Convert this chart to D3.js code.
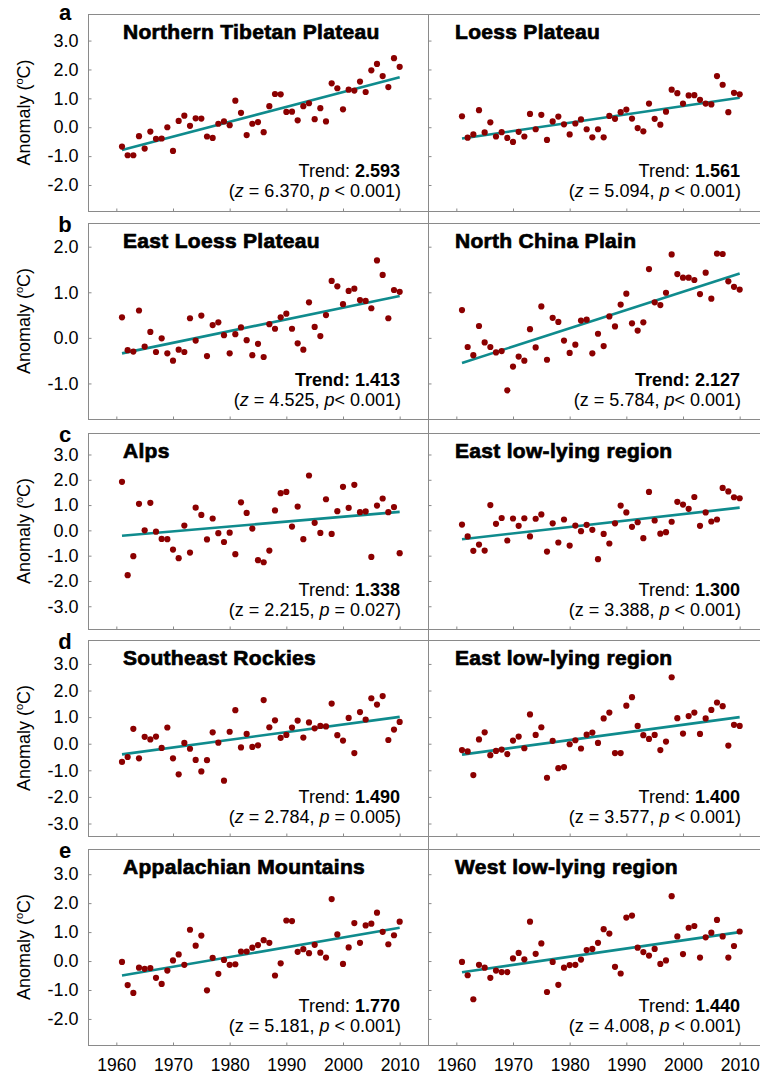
<!DOCTYPE html>
<html><head><meta charset="utf-8">
<script src="https://cdn.jsdelivr.net/npm/d3@7"></script>
<style>
body{margin:0;background:#fff}
svg{display:block}
text{font-family:"Liberation Sans",Arial,Helvetica,sans-serif;white-space:pre}
</style>
</head><body>
<svg id="chart" width="760" height="1074"></svg>
<script>
// ---------------- data ----------------
const years = d3.range(1961, 2011);
const rowLetters = ["a", "b", "c", "d", "e"];
const titles = ["Northern Tibetan Plateau", "Loess Plateau", "East Loess Plateau", "North China Plain",
  "Alps", "East low-lying region", "Southeast Rockies", "East low-lying region",
  "Appalachian Mountains", "West low-lying region"];
const xTickValues = [1960, 1970, 1980, 1990, 2000, 2010];
const xDomain = [1955, 2015];
const yTickValues = [[-2, -1, 0, 1, 2, 3], [-1, 0, 1, 2], [-3, -2, -1, 0, 1, 2, 3], [-3, -2, -1, 0, 1, 2, 3], [-2, -1, 0, 1, 2, 3]];
const yDomains = [[-2.9, 3.92], [-1.78, 2.52], [-3.9, 3.85], [-3.47, 3.9], [-2.9, 3.87]];

const northernTibetanPlateau = [-0.67,-0.97,-0.97,-0.31,-0.74,-0.15,-0.40,-0.39,0.00,-0.82,0.22,0.40,0.05,0.31,0.30,-0.32,-0.37,0.12,0.20,0.07,0.92,0.50,-0.27,0.12,0.18,-0.17,0.73,1.15,1.14,0.53,0.54,0.24,0.73,0.83,0.28,0.66,0.20,1.52,1.35,0.62,1.30,1.27,1.58,1.22,1.97,2.19,1.77,1.39,2.39,2.09];
const loessPlateau = [0.38,-0.36,-0.25,0.59,-0.18,0.17,-0.32,-0.17,-0.37,-0.51,-0.16,-0.32,0.46,-0.07,0.43,-0.44,0.20,0.37,0.10,-0.25,0.13,0.27,-0.07,-0.35,-0.07,-0.35,0.39,0.29,0.52,0.61,0.30,-0.03,-0.14,0.82,0.29,0.09,0.54,1.30,1.18,0.82,1.10,1.11,0.95,0.82,0.79,1.77,1.47,0.52,1.19,1.14];
const eastLoessPlateau = [0.45,-0.27,-0.30,0.60,-0.19,0.13,-0.31,-0.01,-0.34,-0.50,-0.26,-0.31,0.43,-0.06,0.49,-0.40,0.28,0.34,0.06,-0.34,0.08,0.23,-0.05,-0.38,-0.13,-0.42,0.30,0.20,0.45,0.53,0.20,-0.12,-0.26,0.78,0.24,0.04,0.50,1.25,1.13,0.74,1.03,1.08,0.83,0.81,0.65,1.70,1.38,0.43,1.05,1.01];
const northChinaPlain = [0.61,-0.20,-0.38,0.26,-0.10,-0.20,-0.32,-0.29,-1.15,-0.63,-0.41,-0.50,0.19,-0.21,0.69,-0.48,0.44,0.35,-0.06,-0.33,-0.15,0.38,0.40,-0.34,0.09,-0.18,0.47,0.25,0.73,0.97,0.32,0.16,0.34,1.51,0.78,0.72,0.99,1.83,1.40,1.32,1.32,1.27,0.96,1.43,0.86,1.85,1.84,1.24,1.12,1.06];
const alps = [1.92,-1.77,-1.02,1.05,0.00,1.09,-0.05,-0.34,-0.35,-0.76,-1.10,0.19,-0.88,0.90,0.61,-0.36,0.47,-0.11,-0.46,-0.09,-0.94,1.11,0.69,0.07,-1.18,-1.26,-0.80,0.79,1.47,1.52,0.15,0.94,-0.35,2.17,0.30,-0.10,1.23,-0.14,0.76,1.72,0.89,1.80,0.72,0.75,-1.05,0.98,1.26,0.72,0.92,-0.90];
const eastLowLyingC = [0.23,-0.24,-0.81,-0.56,-0.80,1.00,0.26,0.49,-0.40,0.47,0.18,0.48,-0.24,0.46,0.63,-0.84,0.28,-0.48,0.43,-0.60,0.19,-0.03,0.22,0.02,-1.14,-0.14,-0.52,0.28,0.98,0.71,0.14,0.32,-0.31,1.52,0.39,-0.13,-0.07,0.34,1.13,1.02,0.85,1.32,0.18,0.71,0.35,0.43,1.68,1.54,1.31,1.27];
const southeastRockies = [-0.68,-0.50,0.56,-0.55,0.26,0.16,0.27,-0.16,0.61,-0.55,-1.15,0.03,-0.19,-0.61,-1.04,-0.62,0.43,0.04,-1.39,0.45,1.26,-0.14,0.37,-0.12,-0.06,1.64,0.62,0.88,0.22,0.33,0.61,0.87,0.23,0.80,0.58,0.67,0.65,1.51,0.32,0.12,0.97,-0.35,1.19,0.91,1.71,1.47,1.79,0.14,0.53,0.82];
const eastLowLyingD = [-0.24,-0.29,-1.18,0.16,0.43,-0.43,-0.27,-0.22,-0.39,0.12,0.27,-0.17,1.10,0.33,0.62,-1.28,0.11,-0.92,-0.88,-0.02,0.13,-0.18,0.34,0.42,0.03,0.95,1.17,-0.35,-0.35,1.43,1.75,0.67,0.32,0.18,0.33,-0.24,0.08,2.50,0.96,0.38,1.04,1.17,0.37,0.95,1.27,1.55,1.41,-0.07,0.71,0.67];
const appalachianMountains = [-0.03,-0.83,-1.10,-0.23,-0.27,-0.24,-0.58,-0.79,-0.33,0.02,0.23,-0.13,1.08,0.53,0.88,-1.01,0.11,-0.44,0.04,-0.13,-0.11,0.33,0.33,0.46,0.55,0.72,0.63,-0.50,-0.08,1.40,1.38,0.32,0.41,0.27,0.56,0.29,0.12,2.14,0.92,-0.10,0.47,1.31,0.63,1.23,1.29,1.67,1.01,0.58,0.89,1.36];
const westLowLying = [-0.03,-0.49,-1.32,-0.13,-0.23,-0.58,-0.33,-0.38,-0.38,0.09,0.28,0.06,1.36,0.25,0.61,-1.07,-0.03,-0.82,-0.23,-0.14,-0.13,0.05,0.38,0.42,0.63,1.10,0.95,-0.20,-0.43,1.50,1.57,0.46,0.31,0.19,0.42,-0.10,0.02,2.24,0.85,0.24,1.15,1.21,0.12,0.82,0.98,1.42,0.85,0.12,0.52,1.02];

const series = [northernTibetanPlateau, loessPlateau, eastLoessPlateau, northChinaPlain, alps,
  eastLowLyingC, southeastRockies, eastLowLyingD, appalachianMountains, westLowLying];

// trend line values at 1961 and 2010
const trendStart = [-0.79, -0.39, -0.34, -0.55, -0.21, -0.35, -0.40, -0.41, -0.50, -0.39];
const trendEnd = [1.73, 1.02, 0.92, 1.41, 0.73, 0.90, 1.01, 1.00, 1.15, 1.00];

const trendValues = ["2.593", "1.561", "1.413", "2.127", "1.338", "1.300", "1.490", "1.400", "1.770", "1.440"];
const trendAllBold = [false, false, true, true, false, false, false, false, false, false];
const zValues = ["6.370", "5.094", "4.525", "5.784", "2.215", "3.388", "2.784", "3.577", "5.181", "4.008"];
const zItalic = [true, true, true, false, false, false, true, false, false, false];
const pTexts = [" < 0.001", " < 0.001", "< 0.001", "< 0.001", " = 0.027", " < 0.001", " = 0.005", " < 0.001", " < 0.001", " < 0.001"];

// ---------------- layout ----------------
const svg = d3.select("#chart");
const rowTop = [14, 223, 433, 640, 849];
const rowBottom = [211, 419, 629, 836, 1045];
const colLeft = [88, 428];
const colWidth = 340;
const frameColor = "#8a8a8a";
const pointColor = "#8b0000";
const lineColor = "#0f8b8d";
const font = "'Liberation Sans', Arial, Helvetica, sans-serif";

for (let r = 0; r < 5; r++) {
  const y = d3.scaleLinear().domain(yDomains[r]).range([rowBottom[r], rowTop[r]]);

  // row letter
  svg.append("text").attr("x", 65).attr("y", rowTop[r] + (r === 0 ? 6 : 8.5))
    .attr("text-anchor", "middle").attr("font-weight", "bold").attr("font-size", 22)
    .text(rowLetters[r]);

  // y-axis label
  const cy = (rowTop[r] + rowBottom[r]) / 2;
  const lab = svg.append("text")
    .attr("transform", `translate(30,${cy}) rotate(-90)`)
    .attr("text-anchor", "middle").attr("font-size", 18);
  lab.append("tspan").text("Anomaly (");
  lab.append("tspan").attr("font-size", 11).attr("dy", -7).text("o");
  lab.append("tspan").attr("dy", 7).text("C)");

  for (let c = 0; c < 2; c++) {
    const k = r * 2 + c;
    const x = d3.scaleLinear().domain(xDomain).range([colLeft[c], colLeft[c] + colWidth]);
    const g = svg.append("g");

    // frame
    g.append("rect").attr("x", colLeft[c] + 0.5).attr("y", rowTop[r] + 0.5)
      .attr("width", colWidth).attr("height", rowBottom[r] - rowTop[r])
      .attr("fill", "none").attr("stroke", frameColor).attr("stroke-width", 1);

    // y axis (ticks inside)
    const yAxis = d3.axisLeft(y).tickValues(yTickValues[r]).tickSizeInner(-3).tickSizeOuter(0)
      .tickPadding(10).tickFormat(c === 0 ? (d => d.toFixed(1)) : "");
    const ya = g.append("g").attr("transform", `translate(${colLeft[c] + 0.5},0)`).call(yAxis);
    ya.select(".domain").remove();
    ya.selectAll("line").attr("stroke", frameColor);
    ya.selectAll("text").attr("font-size", 18).attr("font-family", font).attr("fill", "#000");

    // x axis (ticks inside)
    const xAxis = d3.axisBottom(x).tickValues(xTickValues).tickSizeInner(-3).tickSizeOuter(0)
      .tickPadding(13).tickFormat(r === 4 ? d3.format("d") : "");
    const xa = g.append("g").attr("transform", `translate(0,${rowBottom[r] + 0.5})`).call(xAxis);
    xa.select(".domain").remove();
    xa.selectAll("line").attr("stroke", frameColor);
    xa.selectAll("text").attr("font-size", 17.5).attr("font-family", font).attr("fill", "#000");

    // trend line
    g.append("line")
      .attr("x1", x(years[0])).attr("y1", y(trendStart[k]))
      .attr("x2", x(years[years.length - 1])).attr("y2", y(trendEnd[k]))
      .attr("stroke", lineColor).attr("stroke-width", 2.6);

    // points
    g.selectAll("circle.pt").data(series[k]).join("circle").attr("class", "pt")
      .attr("cx", (d, i) => x(years[i])).attr("cy", d => y(d))
      .attr("r", 3.1).attr("fill", pointColor);

    // title
    g.append("text").attr("x", colLeft[c] + (c === 0 ? 35 : 27)).attr("y", rowTop[r] + 25)
      .attr("font-size", 21).attr("font-weight", "bold").attr("letter-spacing", 0.3)
      .attr("stroke", "#000").attr("stroke-width", 0.7)
      .text(titles[k]);

    // trend text
    const tx = colLeft[c] + 312;
    const t1 = g.append("text").attr("x", tx).attr("y", rowTop[r] + 163)
      .attr("text-anchor", "end").attr("font-size", 18);
    if (trendAllBold[k]) {
      t1.append("tspan").attr("font-weight", "bold").text("Trend: " + trendValues[k]);
    } else {
      t1.append("tspan").text("Trend: ");
      t1.append("tspan").attr("font-weight", "bold").text(trendValues[k]);
    }
    const t2 = g.append("text").attr("x", tx + 1).attr("y", rowTop[r] + 183)
      .attr("text-anchor", "end").attr("font-size", 18);
    t2.append("tspan").text("(");
    t2.append("tspan").attr("font-style", zItalic[k] ? "italic" : "normal").text("z");
    t2.append("tspan").text(" = " + zValues[k] + ", ");
    t2.append("tspan").attr("font-style", "italic").text("p");
    t2.append("tspan").text(pTexts[k] + ")");
  }
}

// continuous middle divider
svg.append("line").attr("x1", 428.5).attr("x2", 428.5).attr("y1", rowTop[0]).attr("y2", rowBottom[4] + 1)
  .attr("stroke", frameColor).attr("stroke-width", 1);
</script>
</body></html>
